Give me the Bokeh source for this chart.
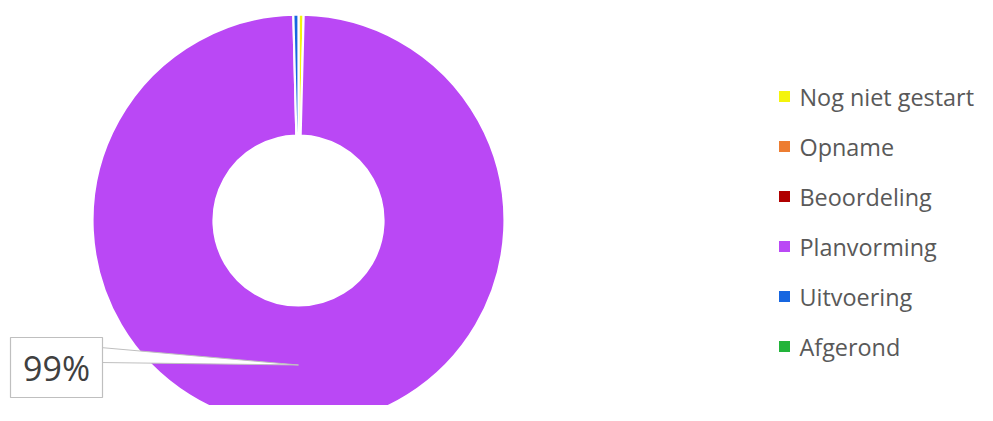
import numpy as np
from bokeh.plotting import figure
from bokeh.models import Range1d, ColumnDataSource
from bokeh.core.properties import value
from bokeh.embed import file_html
from bokeh.resources import INLINE

# ---- data ----
categories = ["Nog niet gestart", "Opname", "Beoordeling", "Planvorming", "Uitvoering", "Afgerond"]
shares = [0.4, 0.0, 0.0, 99.2, 0.4, 0.0]
colors = ["#F4F40C", "#ED7D31", "#B00000", "#BA48F5", "#1666E0", "#22B43A"]
label_category = "Planvorming"
label_text = "99%"

# ---- layout (page pixels, y measured upward from bottom of 421px window) ----
H = 421
W_PLOT, H_PLOT = 977, 405
cx, cy = 298, H - 220
r_out, r_in = 206, 85

p = figure(width=W_PLOT, height=H_PLOT, output_backend="svg", toolbar_location=None,
           x_range=Range1d(0, W_PLOT), y_range=Range1d(H - H_PLOT, H),
           min_border=0, outline_line_color=None, background_fill_color="white")
p.axis.visible = False
p.grid.visible = False

vals = np.array(shares, dtype=float)
frac = vals / vals.sum()
cum = np.cumsum(frac)
prev = np.concatenate([[0.0], cum[:-1]])
start = np.pi / 2 - 2 * np.pi * prev
end = np.pi / 2 - 2 * np.pi * cum

nz = vals > 0
src = ColumnDataSource(dict(start=start[nz], end=end[nz],
                            color=[c for c, k in zip(colors, nz) if k]))
p.annular_wedge(x=cx, y=cy, inner_radius=r_in, outer_radius=r_out,
                start_angle="start", end_angle="end", direction="clock",
                fill_color="color", line_color="white", line_width=2.2, source=src)

# ---- data label with callout ----
i = categories.index(label_category)
mid = np.pi / 2 - 2 * np.pi * (prev[i] + frac[i] / 2)
r_mid = (r_in + r_out) / 2 - 1
tip_x = cx + r_mid * np.cos(mid)
tip_y = cy + r_mid * np.sin(mid)
box_l, box_r, box_t, box_b = 10, 102, H - 337, H - 397
p.patch([box_r - 2, tip_x, box_r - 2], [H - 347, tip_y, H - 362],
        fill_color="white", line_color="#BFBFBF", line_width=1)
p.quad(left=box_l, right=box_r, top=box_t, bottom=box_b,
       fill_color="white", line_color="#BFBFBF", line_width=1.2)
p.text(x=[(box_l + box_r) / 2], y=[(box_t + box_b) / 2], text=[label_text],
       text_font=value("Open Sans"), text_font_size=value("34px"),
       text_color="#404040", text_align="center", text_baseline="middle")

# ---- legend ----
leg_y = [H - (96 + 50 * k) for k in range(len(categories))]
p.rect(x=[784] * len(categories), y=leg_y, width=11, height=11,
       fill_color=colors, line_color=None)
p.text(x=[799] * len(categories), y=leg_y, text=categories,
       text_font=value("Open Sans"), text_font_size=value("23.4px"),
       text_color="#595959", text_align="left", text_baseline="middle")

open("out.html", "w").write(file_html(p, INLINE))
